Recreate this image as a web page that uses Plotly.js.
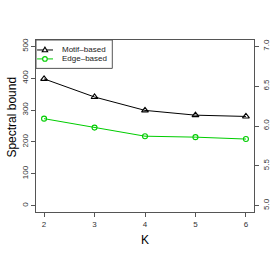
<!DOCTYPE html>
<html><head><meta charset="utf-8">
<script src="https://cdn.plot.ly/plotly-3.0.1.min.js"></script>
<style>html,body{margin:0;padding:0;background:#fff}#chart{width:273px;height:262px}</style>
</head><body><div id="chart"></div>
<script>
const K = [2, 3, 4, 5, 6];
const motifBased = [398, 341, 299, 284, 280];
const edgeBased = [273, 245, 218, 215, 209];
const seriesNames = ['Motif\u2013based', 'Edge\u2013based'];
const seriesColors = ['#000000', '#00cd00'];
const leftTicks = [0, 100, 200, 300, 400, 500];
const rightTicks = [5.0, 5.5, 6.0, 6.5, 7.0];
const rightTickText = ['5.0', '5.5', '6.0', '6.5', '7.0'];

const font = {family: 'Liberation Sans, Arial, sans-serif', color: '#000'};
const traces = [
  {x: K, y: motifBased, name: seriesNames[0], mode: 'lines+markers', type: 'scatter',
   line: {color: seriesColors[0], width: 1}, marker: {symbol: 'triangle-up-open', size: 6, color: seriesColors[0], line: {width: 1.1}}},
  {x: K, y: edgeBased, name: seriesNames[1], mode: 'lines+markers', type: 'scatter',
   line: {color: seriesColors[1], width: 1}, marker: {symbol: 'circle-open', size: 5, color: seriesColors[1], line: {width: 1.1}}},
  {x: [K[0]], y: [rightTicks[0]], yaxis: 'y2', mode: 'markers', marker: {opacity: 0}, showlegend: false, hoverinfo: 'skip'}
];

// Compact R-style legend drawn as shapes + annotations (in axis-domain units)
const legX1 = 0.35, legY0 = 0.835;
const rowY = [0.942, 0.89];
const sampleX = [0.005, 0.078], markX = 0.041, textX = 0.108;
const shapes = [
  {type: 'rect', xref: 'x domain', yref: 'y domain', x0: 0, x1: legX1, y0: legY0, y1: 1,
   line: {color: '#555', width: 1}, fillcolor: '#fff', layer: 'above'}
];
const annotations = [
  {xref: 'paper', yref: 'paper', x: -0.11, y: 0.549, xanchor: 'center', yanchor: 'middle', textangle: -90,
   text: 'Spectral bound', showarrow: false, font: {size: 12, color: '#000'}}
];
seriesNames.forEach((nm, i) => {
  shapes.push({type: 'line', xref: 'x domain', yref: 'y domain', x0: sampleX[0], x1: sampleX[1], y0: rowY[i], y1: rowY[i],
               line: {color: seriesColors[i], width: 1}, layer: 'above'});
  if (i === 0) {
    shapes.push({type: 'path', xref: 'x domain', yref: 'y domain', xsizemode: 'pixel', ysizemode: 'pixel',
                 xanchor: markX, yanchor: rowY[i], path: 'M -2.7 -1.8 L 2.7 -1.8 L 0 2.8 Z',
                 line: {color: seriesColors[i], width: 1.1}, fillcolor: '#fff', layer: 'above'});
  } else {
    shapes.push({type: 'circle', xref: 'x domain', yref: 'y domain', xsizemode: 'pixel', ysizemode: 'pixel',
                 xanchor: markX, yanchor: rowY[i], x0: -2.3, x1: 2.3, y0: -2.3, y1: 2.3,
                 line: {color: seriesColors[i], width: 1.1}, fillcolor: '#fff', layer: 'above'});
  }
  annotations.push({xref: 'x domain', yref: 'y domain', x: textX, y: rowY[i], xanchor: 'left', yanchor: 'middle',
                    text: nm, showarrow: false, font: {size: 8, color: '#222'}});
});

const layout = {
  width: 273, height: 262,
  margin: {l: 36, r: 19, t: 40, b: 50},
  paper_bgcolor: '#fff', plot_bgcolor: '#fff',
  font: font,
  showlegend: false,
  shapes: shapes, annotations: annotations,
  xaxis: {range: [1.84, 6.16], tickvals: K, ticktext: K.map(String), ticks: 'outside', ticklen: 4, tickcolor: '#555',
          showline: true, linecolor: '#555', linewidth: 1, mirror: true, showgrid: false, zeroline: false,
          tickfont: {size: 8, color: '#333'},
          title: {text: 'K', font: {size: 12, color: '#000'}, standoff: 8}},
  yaxis: {range: [-20, 520], tickvals: leftTicks, ticks: 'outside', ticklen: 4, tickcolor: '#555', tickangle: -90,
          showline: true, linecolor: '#555', linewidth: 1, mirror: true, showgrid: false, zeroline: false,
          tickfont: {size: 8, color: '#333'}},
  yaxis2: {overlaying: 'y', side: 'right', range: [4.92, 7.08], tickvals: rightTicks, ticktext: rightTickText,
           ticks: 'outside', ticklen: 4, tickcolor: '#555', tickangle: -90, showline: false, showgrid: false, zeroline: false,
           tickfont: {size: 8, color: '#333'}}
};
Plotly.newPlot('chart', traces, layout, {displayModeBar: false, staticPlot: true});
</script></body></html>
